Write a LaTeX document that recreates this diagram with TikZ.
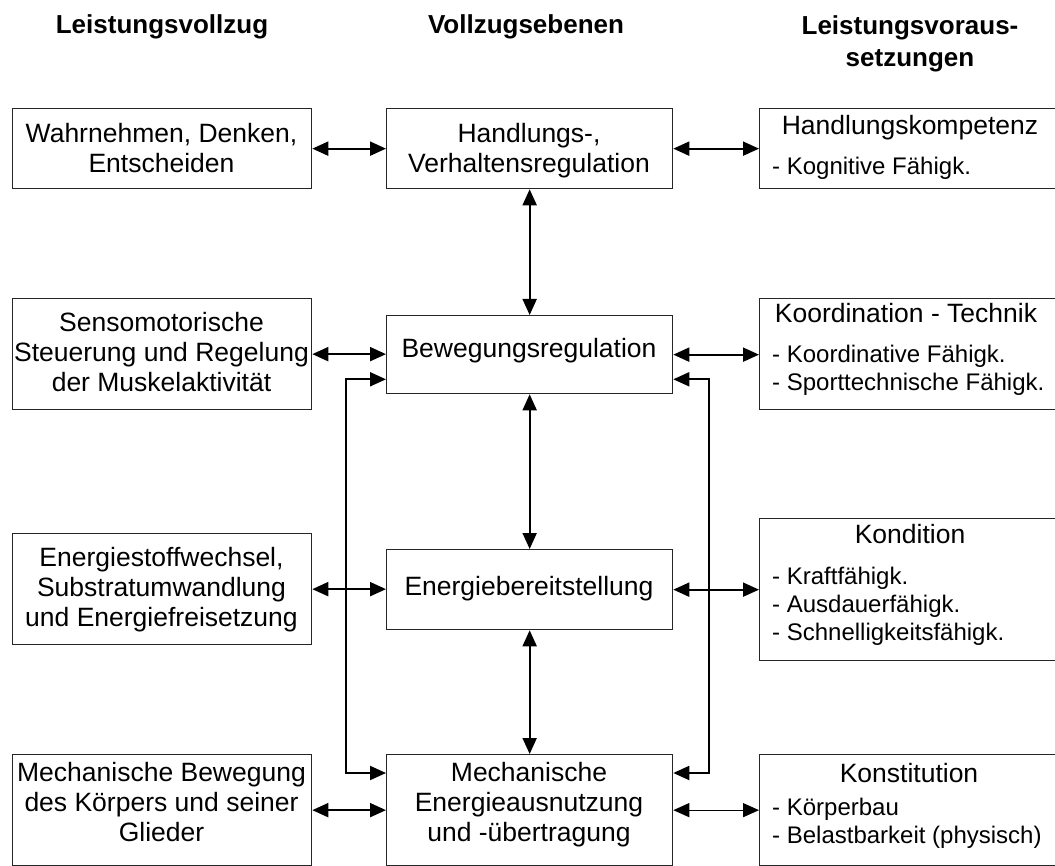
\documentclass[tikz,border=0pt]{standalone}
\usepackage{fontspec}
\setmainfont{Liberation Sans}[Ligatures=CommonOff]
\usetikzlibrary{arrows.meta,calc}
\begin{document}
\begin{tikzpicture}[x=1pt,y=-1pt,
  >={Triangle[length=16pt,width=14pt]},
  box/.style={draw=black!85, line width=1.3pt, anchor=north west, inner sep=0pt},
  % multi-line texts are anchored at the baseline of their last line
  txt/.style={anchor=base, inner sep=0pt, align=center, font=\fontsize{26.5}{30}\selectfont},
  hdr/.style={anchor=base, inner sep=0pt, align=center, font=\fontsize{26}{32}\selectfont\bfseries},
  ttl/.style={anchor=base, inner sep=0pt, font=\fontsize{26.5}{30}\selectfont},
  lst/.style={anchor=base west, inner sep=0pt, align=left, font=\fontsize{24}{28}\selectfont},
  dbl/.style={<->, line width=2pt},
  thindbl/.style={<->, line width=1.3pt}]
\clip (0,0) rectangle (1055,866);

% column headings
\node[hdr] (h1) at (162,34) {Leistungsvollzug};
\node[hdr] (h2) at (526,34) {Vollzugsebenen};
\node[hdr] (h3) at (910,67) {Leistungsvoraus-\\setzungen};

% left column: Leistungsvollzug
\node[box, minimum width=299pt, minimum height=80pt]  (l1) at (12,108) {};
\node[box, minimum width=299pt, minimum height=111pt] (l2) at (12,298) {};
\node[box, minimum width=299pt, minimum height=111pt] (l3) at (12,533) {};
\node[box, minimum width=299pt, minimum height=111pt] (l4) at (12,754) {};
\node[txt] (l1t) at (161.5,172.7) {Wahrnehmen, Denken,\\Entscheiden};
\node[txt] (l2t) at (161.5,391.7) {Sensomotorische\\Steuerung und Regelung\\der Muskelaktivität};
\node[txt] (l3t) at (161.5,626.7) {Energiestoffwechsel,\\Substratumwandlung\\und Energiefreisetzung};
\node[txt] (l4t) at (161.5,841) {Mechanische Bewegung\\des Körpers und seiner\\Glieder};

% middle column: Vollzugsebenen
\node[box, minimum width=286pt, minimum height=80pt]  (m1) at (386,108) {};
\node[box, minimum width=286pt, minimum height=78pt]  (m2) at (386,315) {};
\node[box, minimum width=286pt, minimum height=80pt]  (m3) at (386,549) {};
\node[box, minimum width=286pt, minimum height=111pt] (m4) at (386,754) {};
\node[txt] (m1t) at (529,172.7) {Handlungs-,\\Verhaltensregulation};
\node[txt] (m2t) at (529,358) {Bewegungsregulation};
\node[txt] (m3t) at (529,595) {Energiebereitstellung};
\node[txt] (m4t) at (529,841) {Mechanische\\Energieausnutzung\\und -übertragung};

% right column: Leistungsvoraussetzungen
\node[box, minimum width=302pt, minimum height=80pt]  (r1) at (759,108) {};
\node[box, minimum width=302pt, minimum height=111pt] (r2) at (759,298) {};
\node[box, minimum width=302pt, minimum height=142pt] (r3) at (759,518) {};
\node[box, minimum width=302pt, minimum height=111pt] (r4) at (759,754) {};
\node[ttl] (r1t) at (910,135) {Handlungskompetenz};
\node[lst] (r1l) at (772,175) {- Kognitive Fähigk.};
\node[ttl] (r2t) at (906,323) {Koordination - Technik};
\node[lst] (r2l) at (772,391) {- Koordinative Fähigk.\\- Sporttechnische Fähigk.};
\node[ttl] (r3t) at (910,543.5) {Kondition};
\node[lst] (r3l) at (772,640) {- Kraftfähigk.\\- Ausdauerfähigk.\\- Schnelligkeitsfähigk.};
\node[ttl] (r4t) at (909,782) {Konstitution};
\node[lst] (r4l) at (772,843) {- Körperbau\\- Belastbarkeit (physisch)};

% horizontal links between the columns
\draw[dbl] (l1.east) -- (m1.west);
\draw[dbl] (m1.east) -- (r1.west);
\draw[dbl] (l2.east) -- (l2.east -| m2.west);
\draw[dbl] (m2.east) -- (m2.east -| r2.west);
\draw[dbl] (l3.east) -- (l3.east -| m3.west);
\draw[dbl] (m3.east) -- (m3.east -| r3.west);
\draw[dbl] (l4.east) -- (l4.east -| m4.west);
\draw[thindbl] (m4.east) -- (m4.east -| r4.west);

% vertical links between the levels
\draw[dbl] (m1.south) -- (m2.north);
\draw[dbl] (m2.south) -- (m3.north);
\draw[dbl] (m3.south) -- (m4.north);

% feedback loops from the lowest to the second level
\coordinate (lx) at (345.5,0);
\coordinate (rx) at (709,0);
\coordinate (m2l) at ($(m2.south west)+(0,-15)$);
\coordinate (m2r) at ($(m2.south east)+(0,-15)$);
\coordinate (m4l) at ($(m4.north west)+(0,19)$);
\coordinate (m4r) at ($(m4.north east)+(0,19)$);
\draw[dbl] (m2l) -- (m2l -| lx) -- (m4l -| lx) -- (m4l);
\draw[dbl] (m2r) -- (m2r -| rx) -- (m4r -| rx) -- (m4r);
\end{tikzpicture}
\end{document}
